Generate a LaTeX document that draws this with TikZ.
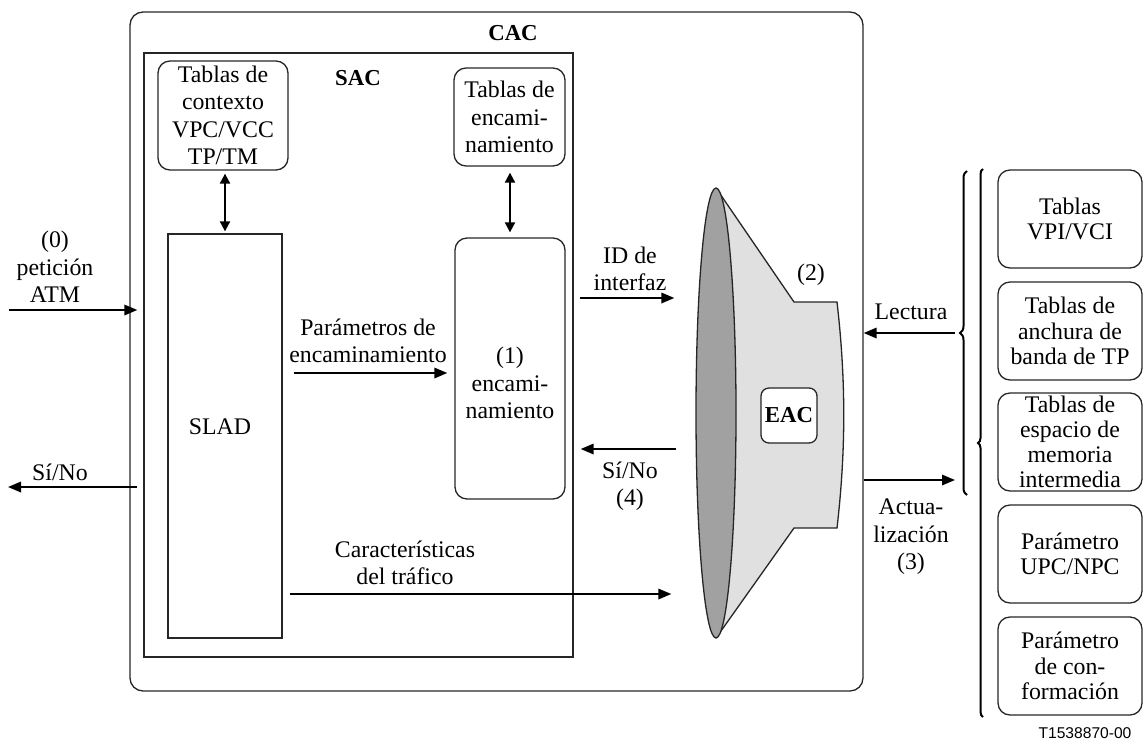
\documentclass[tikz,border=0pt]{standalone}
\usepackage{fontspec}
\setmainfont{Liberation Serif}
\newfontfamily\figsans{Liberation Sans}
\usetikzlibrary{arrows.meta, shapes.geometric, decorations.pathreplacing}

\begin{document}
\begin{tikzpicture}[x=0.5pt, y=-0.5pt,
  font=\fontsize{11.9}{13.7}\selectfont,
  frame/.style={draw=black!85, line width=0.65pt},
  rbox/.style={frame, rounded corners=6pt, align=center, inner sep=0pt},
  sbox/.style={frame, inner sep=0pt},
  txt/.style={align=center, inner sep=0pt},
  bld/.style={txt, font=\fontsize{11.4}{13.7}\selectfont\bfseries},
  arr/.style={line width=1pt, -{Triangle[length=6.5pt,width=5.2pt]}},
  dbl/.style={line width=1pt, {Triangle[length=5pt,width=5pt]}-{Triangle[length=5pt,width=5pt]}},
  brc/.style={line width=1pt, decorate}
]
\useasboundingbox (0,0) rectangle (1145,740);

% CAC frame, SAC block and its inner boxes
\node[rbox, rounded corners=6.5pt, minimum width=366.5pt, minimum height=339.5pt] (cac) at (496.5,351.5) {};
\node[sbox, minimum width=214.5pt, minimum height=302pt] (sac) at (358.5,355) {};
\node[bld] (caclbl) at (513,33) {CAC};
\node[bld] (saclbl) at (358,78) {SAC};

\node[rbox, minimum width=65pt, minimum height=54.5pt] (ctx) at (223,115.5)
  {Tablas de\\contexto\\VPC/VCC\\TP/TM};
\node[rbox, minimum width=55.5pt, minimum height=49pt] (rtab) at (509.5,117)
  {Tablas de\\encami-\\namiento};
\node[sbox, minimum width=57pt, minimum height=202pt] (slad) at (225,436) {};
\node[txt] (sladlbl) at (220,427) {SLAD};
\node[rbox, minimum width=55pt, minimum height=130.5pt] (route) at (510,368.5) {};
\node[txt] (routelbl) at (510,383) {(1)\\encami-\\namiento};

\draw[dbl, shorten <=1.5pt, shorten >=1pt] (slad.north |- ctx.south) -- (slad.north);
\draw[dbl, shorten <=3pt, shorten >=2.5pt] (route.north |- rtab.south) -- (route.north);

% EAC funnel
\fill[black!12] (716,188) -- (794,302) -- (837,302)
  .. controls (846,380) and (846,450) .. (837,528) -- (794,528) -- (716,638) -- cycle;
\draw[frame] (716,188) -- (794,302) -- (837,302)
  .. controls (846,380) and (846,450) .. (837,528) -- (794,528) -- (716,638);
\node[ellipse, draw=black!85, fill=black!37, line width=0.65pt, minimum width=20pt,
  minimum height=225pt, inner sep=0pt] (disc) at (716,413) {};
\node[rbox, bld, fill=white, rounded corners=4pt, minimum width=28pt, minimum height=27.5pt] (eac)
  at (789,415.5) {EAC};
\node[txt] (twolbl) at (811,275) {(2)};

% tables outside the CAC
\begin{scope}[every node/.style={rbox, minimum width=72pt, minimum height=49pt,
    font=\fontsize{11.9}{12.6}\selectfont}]
  \node (vpi) at (1070,219) {Tablas\\VPI/VCI};
  \node (bw)  at (1070,331) {Tablas de\\anchura de\\banda de TP};
  \node (buf) at (1070,442) {Tablas de\\espacio de\\memoria\\intermedia};
  \node (upc) at (1070,554) {Parámetro\\UPC/NPC};
  \node (shp) at (1070,666) {Parámetro\\de con-\\formación};
\end{scope}
\draw[brc, decoration={brace, amplitude=3.5pt}] (967,495) -- (967,171);
\draw[brc, decoration={brace, amplitude=2.5pt}] (983,717) -- (983,169);

% signal levels and free ends
\coordinate (reqsrc) at (9,310);
\coordinate (ynsink) at (8,487);
\coordinate (parlvl) at (0,373);
\coordinate (idlvl) at (0,298);
\coordinate (yn4lvl) at (0,449);
\coordinate (carlvl) at (0,594);
\coordinate (rdsrc) at (955,333);
\coordinate (updst) at (955,480);

\draw[arr] (reqsrc) -- ([xshift=4pt]reqsrc -| cac.west);
\draw[arr] ([xshift=4pt]ynsink -| cac.west) -- (ynsink);
\draw[arr] ([xshift=5.5pt]parlvl -| slad.east) -- ([xshift=-3.5pt]parlvl -| route.west);
\draw[arr] ([xshift=3pt]idlvl -| sac.east) -- ([xshift=-10.5pt]idlvl -| disc.west);
\draw[arr] ([xshift=-9.5pt]yn4lvl -| disc.west) -- ([xshift=3.5pt]yn4lvl -| sac.east);
\draw[arr] ([xshift=3.5pt]carlvl -| slad.east) -- ([xshift=-12pt]carlvl -| disc.west);
\draw[arr] (rdsrc) -- (rdsrc -| cac.east);
\draw[arr] (updst -| cac.east) -- (updst);

% connector labels
\node[txt] (reqlbl) at (55,267) {(0)\\petición\\ATM};
\node[txt] (ynlbl) at (60,472) {Sí/No};
\node[txt] (parlbl) at (368,341) {Parámetros de\\encaminamiento};
\node[txt] (idlbl) at (630,269) {ID de\\interfaz};
\node[txt] (yn4lbl) at (630,486) {Sí/No\\(4)};
\node[txt] (carlbl) at (405,563) {Características\\del tráfico};
\node[txt] (leclbl) at (911,312) {Lectura};
\node[txt] (actlbl) at (911,537) {Actua-\\lización\\(3)};

\node[txt, font=\figsans\fontsize{7.8}{9}\selectfont] (figno) at (1085,733) {T1538870-00};
\end{tikzpicture}
\end{document}
